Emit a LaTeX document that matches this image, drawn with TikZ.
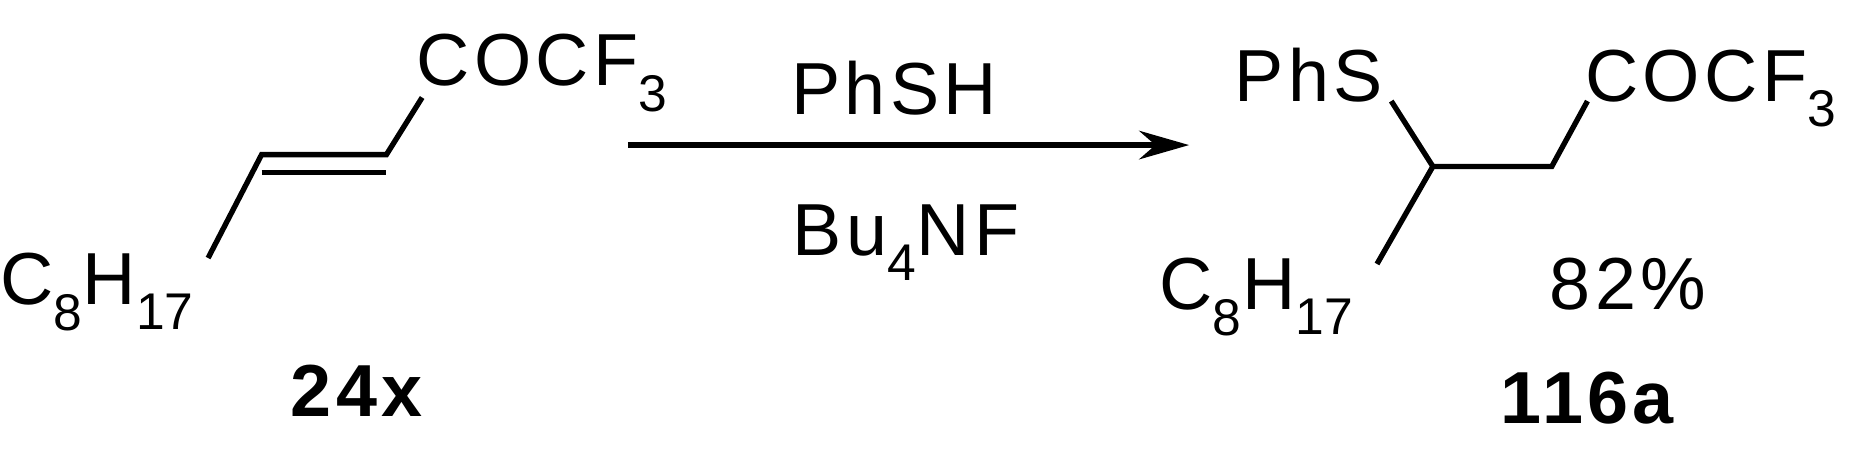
\documentclass[tikz,border=0pt]{standalone}
\usepackage{fontspec}
\setmainfont{Liberation Sans}[LetterSpace=6]
\usetikzlibrary{arrows.meta}
\begin{document}
\begin{tikzpicture}[x=1pt,y=-1pt,
  lbl/.style={inner sep=0pt,anchor=base west,font=\fontsize{62}{62}\selectfont},
  cmp/.style={inner sep=0pt,anchor=base,font=\fontsize{62}{62}\selectfont\bfseries},
  bond/.style={line width=4.5pt}]
\useasboundingbox (0,0) rectangle (1560,387);
% 24x
\node[lbl] (a1) at (350,72) {COCF$_{\mathrm{3}}$};
\node[lbl] (a2) at (0,256) {C$_{\mathrm 8}$H$_{\mathrm{17}}$};
\coordinate (p1) at (355,82);
\coordinate (p2) at (325,130);
\coordinate (p3) at (220,130);
\coordinate (p4) at (325,145);
\coordinate (p5) at (220,145);
\coordinate (p6) at (175,217);
\draw[bond] (p1)--(p2)--(p3)--(p6);
\draw[bond] (p5)--(p4);
\node[cmp] (c1) at (300,350) {24x};
% arrow
\coordinate (ar1) at (528,122);
\coordinate (ar2) at (1000,122);
\draw[line width=4.5pt,-{Stealth[length=42pt,width=24pt]}] (ar1)--(ar2);
\node[lbl,anchor=base] (r1) at (752,96) {PhSH};
\node[lbl,anchor=base] (r2) at (762,215) {Bu$_{\mathrm 4}$NF};
% 116a
\node[lbl] (b1) at (1038,85) {PhS};
\node[lbl] (b2) at (1333,85) {COCF$_{\mathrm{3}}$};
\node[lbl] (b3) at (975,260) {C$_{\mathrm 8}$H$_{\mathrm{17}}$};
\node[lbl] (b4) at (1303,260) {82\%};
\coordinate (q1) at (1170,85);
\coordinate (q2) at (1205,140);
\coordinate (q3) at (1305,140);
\coordinate (q4) at (1335,85);
\coordinate (q5) at (1158,222);
\draw[bond] (q1)--(q2)--(q3)--(q4);
\draw[bond] (q2)--(q5);
\node[cmp] (c2) at (1335,356) {116a};
\end{tikzpicture}
\end{document}
